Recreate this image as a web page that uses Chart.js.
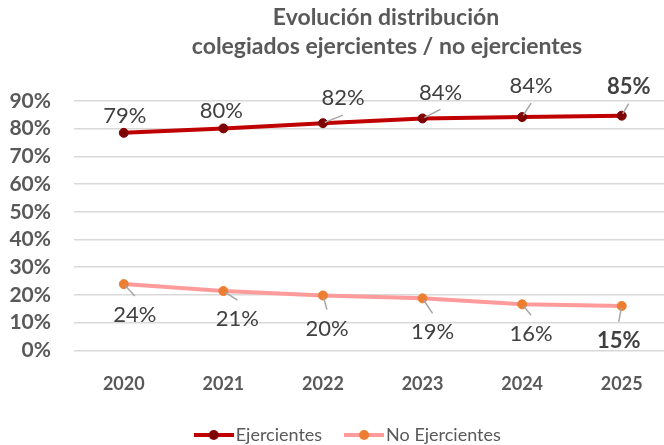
<!DOCTYPE html>
<html>
<head>
<meta charset="utf-8">
<script src="https://cdn.jsdelivr.net/npm/chart.js@4"></script>
<style>
  html, body { margin: 0; padding: 0; background: #fff; overflow: hidden; }
  #wrap { position: relative; width: 700px; height: 445px; }
</style>
</head>
<body>
<div id="wrap"><canvas id="chart"></canvas></div>
<script>
// data
const years = ['2020', '2021', '2022', '2023', '2024', '2025'];
const ejercientes = [78.5, 80.1, 82.0, 83.7, 84.2, 84.7];
const noEjercientes = [23.9, 21.4, 19.8, 18.75, 16.6, 16.0];
const ejLabels = ['79%', '80%', '82%', '84%', '84%', '85%'];
const noLabels = ['24%', '21%', '20%', '19%', '16%', '15%'];
const titleLines = ['Evolución distribución', 'colegiados ejercientes / no ejercientes'];

const FONT = 'Lato, "Liberation Sans", sans-serif';
const TEXT = '#595959';

// label placement relative to each point (style only)
const ejOffsets = [[1, -18], [-2, -19], [20, -26], [18, -27], [9, -32], [7, -30]];
const noOffsets = [[11, 30], [14, 27], [4, 32], [10, 33], [9, 29], [-3, 34]];

// legend sample: short line with a dot in the middle
function legendSample(lineColor, dotColor) {
  const c = document.createElement('canvas');
  c.width = 40; c.height = 12;
  const g = c.getContext('2d');
  g.strokeStyle = lineColor;
  g.lineWidth = 4;
  g.beginPath(); g.moveTo(0, 6); g.lineTo(40, 6); g.stroke();
  g.fillStyle = dotColor;
  g.beginPath(); g.arc(20, 6, 5, 0, Math.PI * 2); g.fill();
  return c;
}

const titlePlugin = {
  id: 'twoLineTitle',
  afterLayout(chart) {
    // legend in the original sits a bit right of the canvas centre
    if (chart.legend) { chart.legend.left += 15; chart.legend.right += 15; }
  },
  afterDraw(chart) {
    const ctx = chart.ctx;
    ctx.save();
    ctx.fillStyle = TEXT;
    ctx.font = 'bold 23px ' + FONT;
    ctx.textAlign = 'center';
    ctx.textBaseline = 'alphabetic';
    ctx.fillText(titleLines[0], 386, 25);
    ctx.fillText(titleLines[1], 387, 54);
    ctx.restore();
  }
};

const pointLabels = {
  id: 'pointLabels',
  afterDatasetsDraw(chart) {
    const ctx = chart.ctx;
    const sets = [[0, ejLabels, ejOffsets, -1], [1, noLabels, noOffsets, 1]];
    ctx.save();
    sets.forEach(([di, texts, offs, dir]) => {
      const meta = chart.getDatasetMeta(di);
      meta.data.forEach((pt, i) => {
        const lx = pt.x + offs[i][0];
        const ly = pt.y + offs[i][1];
        // leader line when the label sits away from the point
        const ex = lx, ey = ly - dir * 18;
        const len = Math.hypot(ex - pt.x, ey - pt.y);
        if (len > 8) {
          ctx.strokeStyle = '#A6A6A6';
          ctx.lineWidth = 1.5;
          ctx.beginPath();
          ctx.moveTo(pt.x + (ex - pt.x) / len * 2, pt.y + (ey - pt.y) / len * 2);
          ctx.lineTo(ex, ey);
          ctx.stroke();
        }
        const last = i === texts.length - 1;
        ctx.fillStyle = '#404040';
        ctx.font = (last ? 'bold ' : '') + '22px ' + FONT;
        ctx.textAlign = 'center';
        ctx.textBaseline = 'middle';
        ctx.fillText(texts[i], lx, ly + 1);
      });
    });
    ctx.restore();
  }
};

const samples = [legendSample('#C00000', '#7F0000'), legendSample('#FF9B9B', '#ED7D31')];

new Chart(document.getElementById('chart'), {
  type: 'line',
  data: {
    labels: years,
    datasets: [
      {
        label: 'Ejercientes',
        data: ejercientes,
        borderColor: '#C00000',
        borderWidth: 4,
        pointRadius: 4.5,
        pointBackgroundColor: '#7F0000',
        pointBorderColor: '#7F0000',
        pointBorderWidth: 1,
        tension: 0,
        clip: false
      },
      {
        label: 'No Ejercientes',
        data: noEjercientes,
        borderColor: '#FF9B9B',
        borderWidth: 4,
        pointRadius: 4.5,
        pointBackgroundColor: '#ED7D31',
        pointBorderColor: '#ED7D31',
        pointBorderWidth: 1,
        tension: 0,
        clip: false
      }
    ]
  },
  options: {
    responsive: true,
    maintainAspectRatio: false,
    animation: false,
    layout: { padding: { top: 101, right: 28.5, left: 0, bottom: -9 } },
    scales: {
      x: {
        offset: true,
        grid: { display: false, drawTicks: false },
        border: { display: false },
        ticks: { color: TEXT, font: { family: FONT, size: 18, weight: 'bold' }, padding: 23 },
        afterFit(scale) { scale.height = 46.7; }
      },
      y: {
        min: 0,
        max: 90,
        ticks: {
          stepSize: 10,
          autoSkip: false,
          color: TEXT,
          padding: 23,
          font: { family: FONT, size: 21, weight: 'bold' },
          callback: v => v + '%'
        },
        grid: { color: '#D9D9D9', lineWidth: 1.5, drawTicks: false },
        border: { display: false },
        afterFit(scale) { scale.width = 74; }
      }
    },
    plugins: {
      title: { display: false },
      tooltip: { enabled: false },
      legend: {
        position: 'bottom',
        labels: {
          color: TEXT,
          font: { family: FONT, size: 18 },
          usePointStyle: true,
          pointStyleWidth: 26,
          boxHeight: 12,
          padding: 29,
          generateLabels(chart) {
            const items = Chart.defaults.plugins.legend.labels.generateLabels(chart);
            items.forEach((it, i) => { it.pointStyle = samples[i]; });
            return items;
          }
        }
      }
    }
  },
  plugins: [titlePlugin, pointLabels]
});
</script>
</body>
</html>
